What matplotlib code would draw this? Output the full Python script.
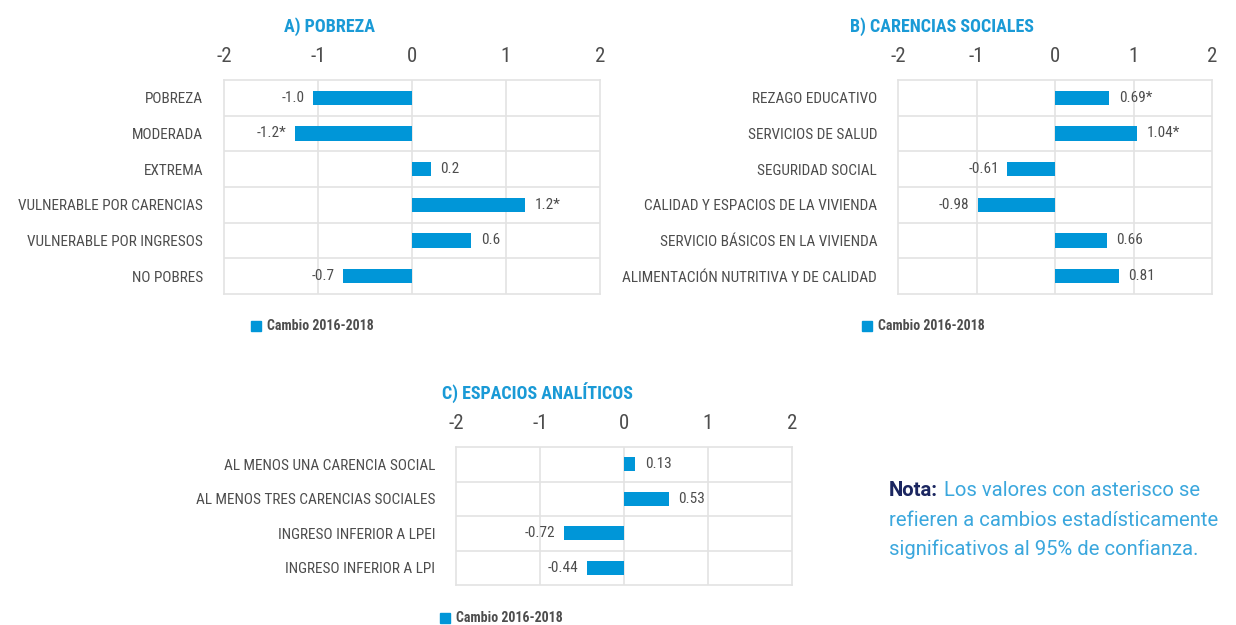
import matplotlib
matplotlib.use("Agg")
import matplotlib.pyplot as plt
from matplotlib import font_manager
from matplotlib.patches import Rectangle
from matplotlib.text import Annotation

# data
cat_a = ["POBREZA", "MODERADA", "EXTREMA", "VULNERABLE POR CARENCIAS",
         "VULNERABLE POR INGRESOS", "NO POBRES"]
val_a = [-1.05, -1.25, 0.2, 1.2, 0.63, -0.73]
lab_a = ["-1.0", "-1.2*", "0.2", "1.2*", "0.6", "-0.7"]

cat_b = ["REZAGO EDUCATIVO", "SERVICIOS DE SALUD", "SEGURIDAD SOCIAL",
         "CALIDAD Y ESPACIOS DE LA VIVIENDA", "SERVICIO BÁSICOS EN LA VIVIENDA",
         "ALIMENTACIÓN NUTRITIVA Y DE CALIDAD"]
val_b = [0.69, 1.04, -0.61, -0.98, 0.66, 0.81]
lab_b = ["0.69*", "1.04*", "-0.61", "-0.98", "0.66", "0.81"]

cat_c = ["AL MENOS UNA CARENCIA SOCIAL", "AL MENOS TRES CARENCIAS SOCIALES",
         "INGRESO INFERIOR A LPEI", "INGRESO INFERIOR A LPI"]
val_c = [0.13, 0.53, -0.72, -0.44]
lab_c = ["0.13", "0.53", "-0.72", "-0.44"]

ticks = [-2, -1, 0, 1, 2]
legend_label = "Cambio 2016-2018"

installed = {f.name for f in font_manager.fontManager.ttflist}
cond = [f for f in ["Liberation Sans Narrow", "Roboto Condensed", "Roboto", "DejaVu Sans"] if f in installed]
plt.rcParams['font.family'] = cond

BLUE = "#0096d8"
TITLE = "#1a9ad6"
GRAY = "#4d4d4d"
GRID = "#e3e3e3"

W, H = 1236, 625
fig = plt.figure(figsize=(W / 100, H / 100), dpi=100)


def px_axes(x0, y0, x1, y1):
    return fig.add_axes([x0 / W, 1 - y1 / H, (x1 - x0) / W, (y1 - y0) / H])


def panel(box, cats, vals, labs, title, title_xy, leg_xy):
    ax = px_axes(*box)
    n = len(cats)
    y = list(range(n))
    ax.barh(y, vals, height=0.4, color=BLUE, zorder=3)
    ax.set_xlim(-2, 2)
    ax.set_ylim(n - 0.5, -0.5)
    ax.set_yticks(y)
    ax.set_yticklabels(cats, fontsize=11, color=GRAY)
    ax.set_xticks(ticks)
    ax.set_xticklabels([str(t) for t in ticks], fontsize=15, color=GRAY)
    ax.xaxis.tick_top()
    ax.tick_params(axis="x", length=0, pad=10)
    ax.tick_params(axis="y", length=0, pad=15)
    for t in [-1, 0, 1]:
        ax.axvline(t, color=GRID, lw=1.2, zorder=1)
    for i in range(1, n):
        ax.axhline(i - 0.5, color=GRID, lw=1.2, zorder=1)
    for s in ax.spines.values():
        s.set_color(GRID)
        s.set_linewidth(1.2)
    for i, (v, l) in enumerate(zip(vals, labs)):
        if v >= 0:
            ax.annotate(l, (v, i), xytext=(7, 0), textcoords="offset points",
                        ha="left", va="center", fontsize=11, color=GRAY)
        else:
            ax.annotate(l, (v, i), xytext=(-6, 0), textcoords="offset points",
                        ha="right", va="center", fontsize=11, color=GRAY)
    fig.text(title_xy[0] / W, 1 - title_xy[1] / H, title, ha="center", va="center",
             fontsize=13, fontweight="bold", color=TITLE)
    lx, ly = leg_xy
    fig.patches.append(Rectangle((lx / W, 1 - (ly + 5) / H), 10 / W, 10 / H,
                                 transform=fig.transFigure, color=BLUE, figure=fig))
    fig.text((lx + 16) / W, 1 - ly / H, legend_label, ha="left", va="center",
             fontsize=10, fontweight="bold", color=GRAY)
    return ax


panel((224, 80, 600, 294), cat_a, val_a, lab_a, "A) POBREZA", (330, 27), (251, 326))
panel((898, 80, 1212, 294), cat_b, val_b, lab_b, "B) CARENCIAS SOCIALES", (942, 27), (862, 326))
panel((456, 447, 792, 585), cat_c, val_c, lab_c, "C) ESPACIOS ANALÍTICOS", (537, 393), (440, 618))

note_font = ["Roboto", "DejaVu Sans"]
nota = fig.text(889 / W, 1 - 491 / H, "Nota:", ha="left", va="center", fontsize=14.6,
                fontweight="bold", color="#1b2660", family=note_font)
fig.add_artist(Annotation("Los valores con asterisco se", xy=(1, 0.5), xycoords=nota,
                          xytext=(4, 0), textcoords="offset points", ha="left", va="center",
                          fontsize=14.6, color="#3ba7dd", family=note_font))
fig.text(889 / W, 1 - 520 / H, "refieren a cambios estadísticamente", ha="left", va="center",
         fontsize=14.6, color="#3ba7dd", family=note_font)
fig.text(889 / W, 1 - 549 / H, "significativos al 95% de confianza.", ha="left", va="center",
         fontsize=14.6, color="#3ba7dd", family=note_font)

fig.savefig("out.png", dpi=100)
